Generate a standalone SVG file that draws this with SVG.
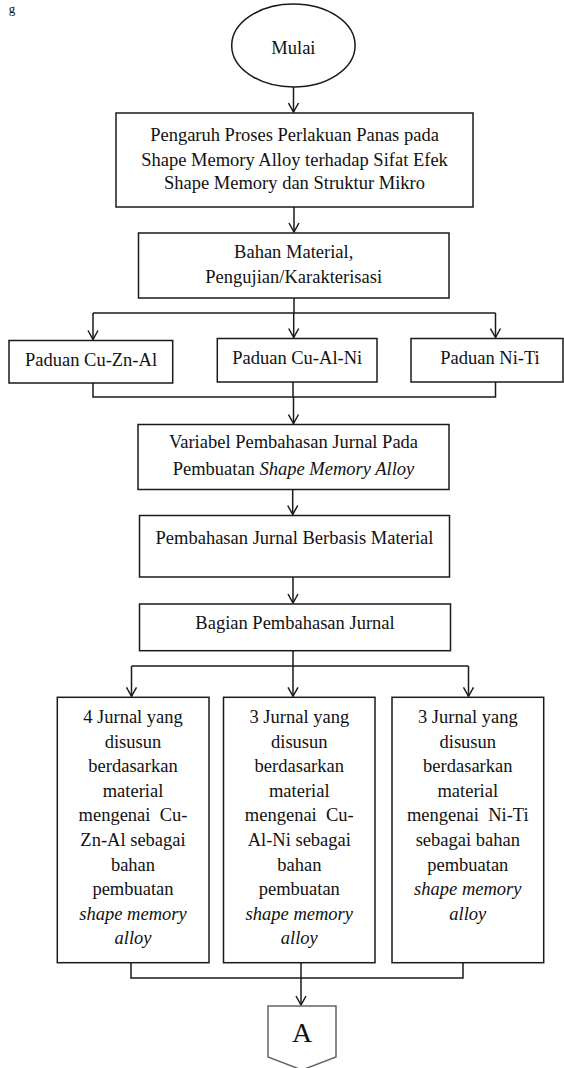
<svg xmlns="http://www.w3.org/2000/svg" width="564" height="1068" viewBox="0 0 564 1068">
<defs>
<style>
.box{fill:#fff;stroke:#1a1a1a;stroke-width:1.5}
.t{font-family:"Liberation Serif","Times New Roman",serif;font-size:18.5px;fill:#111;text-anchor:middle}
.i{font-style:italic}
.c{fill:none;stroke:#1a1a1a;stroke-width:1.5}
</style>
<marker id="arr" markerUnits="userSpaceOnUse" markerWidth="12" markerHeight="12" viewBox="-10 -6 12 12" refX="0" refY="0" orient="auto">
<path d="M-9,-5 L0,0 L-9,5" fill="none" stroke="#1a1a1a" stroke-width="1.5"/>
</marker>
</defs>
<rect width="564" height="1068" fill="#fff"/>
<text class="t" x="12" y="12.5" style="font-size:13px">g</text>

<g id="connectors">
<path class="c" d="M293.5,87 V112" marker-end="url(#arr)"/>
<path class="c" d="M294,207 V232" marker-end="url(#arr)"/>
<path class="c" d="M294,298 V313"/>
<path class="c" d="M93,313 H495.5"/>
<path class="c" d="M93,313 V339.5" marker-end="url(#arr)"/>
<path class="c" d="M293.7,313 V337.5" marker-end="url(#arr)"/>
<path class="c" d="M495.5,313 V337.5" marker-end="url(#arr)"/>
<path class="c" d="M93,383 V397 H495.5 V382"/>
<path class="c" d="M293,382 V397"/>
<path class="c" d="M293.5,397 V423.5" marker-end="url(#arr)"/>
<path class="c" d="M292.7,489.5 V514.5" marker-end="url(#arr)"/>
<path class="c" d="M293,577 V603" marker-end="url(#arr)"/>
<path class="c" d="M293,650.7 V666"/>
<path class="c" d="M131.5,666 H468.5"/>
<path class="c" d="M131.5,666 V696.3" marker-end="url(#arr)"/>
<path class="c" d="M293,666 V696.3" marker-end="url(#arr)"/>
<path class="c" d="M468.5,666 V696.3" marker-end="url(#arr)"/>
<path class="c" d="M131,962.7 V978 H463 V962.7"/>
<path class="c" d="M301,962.7 V978"/>
<path class="c" d="M301,978 V1005" marker-end="url(#arr)"/>
</g>

<g id="mulai">
<ellipse class="box" cx="293.4" cy="45.5" rx="61.7" ry="41.5"/>
<text class="t" x="293.4" y="54">Mulai</text>
</g>

<g id="pengaruh">
<rect class="box" x="116" y="113" width="357" height="94"/>
<text class="t" x="294.5" y="141">Pengaruh Proses Perlakuan Panas pada</text>
<text class="t" x="294.5" y="166">Shape Memory Alloy terhadap Sifat Efek</text>
<text class="t" x="294.5" y="189">Shape Memory dan Struktur Mikro</text>
</g>

<g id="bahan">
<rect class="box" x="138.5" y="233" width="310.5" height="65"/>
<text class="t" x="293.7" y="258">Bahan Material,</text>
<text class="t" x="293.7" y="283">Pengujian/Karakterisasi</text>
</g>

<g id="cuznal">
<rect class="box" x="9" y="340.5" width="163.7" height="42.5"/>
<text class="t" x="91" y="366">Paduan Cu-Zn-Al</text>
</g>

<g id="cualni">
<rect class="box" x="217.3" y="338.5" width="159.7" height="43.5"/>
<text class="t" x="297.2" y="364">Paduan Cu-Al-Ni</text>
</g>

<g id="niti">
<rect class="box" x="411" y="338.5" width="152" height="43.5"/>
<text class="t" x="490" y="364">Paduan Ni-Ti</text>
</g>

<g id="variabel">
<rect class="box" x="138" y="424.5" width="311" height="65"/>
<text class="t" x="293.5" y="448">Variabel Pembahasan Jurnal Pada</text>
<text class="t" x="293.5" y="475">Pembuatan <tspan class="i">Shape Memory Alloy</tspan></text>
</g>

<g id="berbasis">
<rect class="box" x="139.5" y="515.5" width="310" height="61.5"/>
<text class="t" x="294.5" y="544">Pembahasan Jurnal Berbasis Material</text>
</g>

<g id="bagian">
<rect class="box" x="139.5" y="604" width="311" height="46.7"/>
<text class="t" x="295" y="629">Bagian Pembahasan Jurnal</text>
</g>

<g id="jurnal-cuznal">
<rect class="box" x="57.3" y="697.3" width="151.7" height="265.4"/>
<text class="t" x="133" y="723">4 Jurnal yang</text>
<text class="t" x="133" y="747.6">disusun</text>
<text class="t" x="133" y="772.2">berdasarkan</text>
<text class="t" x="133" y="796.8">material</text>
<text class="t" x="133" y="821.4" xml:space="preserve">mengenai  Cu-</text>
<text class="t" x="133" y="846">Zn-Al sebagai</text>
<text class="t" x="133" y="870.6">bahan</text>
<text class="t" x="133" y="895.2">pembuatan</text>
<text class="t i" x="133" y="919.8">shape memory</text>
<text class="t i" x="133" y="944.4">alloy</text>
</g>

<g id="jurnal-cualni">
<rect class="box" x="223.5" y="697.3" width="151.5" height="265.4"/>
<text class="t" x="299.3" y="723">3 Jurnal yang</text>
<text class="t" x="299.3" y="747.6">disusun</text>
<text class="t" x="299.3" y="772.2">berdasarkan</text>
<text class="t" x="299.3" y="796.8">material</text>
<text class="t" x="299.3" y="821.4" xml:space="preserve">mengenai  Cu-</text>
<text class="t" x="299.3" y="846">Al-Ni sebagai</text>
<text class="t" x="299.3" y="870.6">bahan</text>
<text class="t" x="299.3" y="895.2">pembuatan</text>
<text class="t i" x="299.3" y="919.8">shape memory</text>
<text class="t i" x="299.3" y="944.4">alloy</text>
</g>

<g id="jurnal-niti">
<rect class="box" x="392" y="697.3" width="151.7" height="265.4"/>
<text class="t" x="467.8" y="723">3 Jurnal yang</text>
<text class="t" x="467.8" y="747.6">disusun</text>
<text class="t" x="467.8" y="772.2">berdasarkan</text>
<text class="t" x="467.8" y="796.8">material</text>
<text class="t" x="467.8" y="821.4" xml:space="preserve">mengenai  Ni-Ti</text>
<text class="t" x="467.8" y="846">sebagai bahan</text>
<text class="t" x="467.8" y="870.6">pembuatan</text>
<text class="t i" x="467.8" y="895.2">shape memory</text>
<text class="t i" x="467.8" y="919.8">alloy</text>
</g>

<g id="connector-a">
<path d="M268,1006 H336 V1057 L302,1070 L268,1057 Z" fill="#fff" stroke="#666" stroke-width="1.5"/>
<text class="t" x="302" y="1042" style="font-size:28px">A</text>
</g>
</svg>
